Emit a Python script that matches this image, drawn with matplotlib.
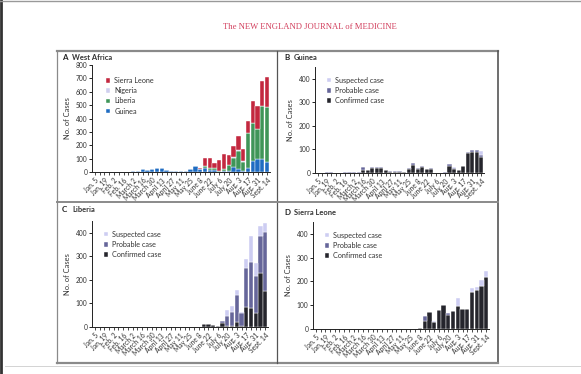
# Ebola weekly cases, West Africa 2014 (NEJM style, 4 panels)
import numpy as np
import matplotlib.pyplot as plt
from matplotlib.lines import Line2D

plt.rcParams['font.family'] = ['Lato', 'DejaVu Sans']

weeks = ["Jan. 5", "", "Jan. 19", "", "Feb. 2", "", "Feb. 16", "", "March 2", "",
         "March 16", "", "March 30", "", "April 13", "", "April 27", "", "May 11", "",
         "May 25", "", "June 8", "", "June 22", "", "July 6", "", "July 20", "",
         "Aug. 3", "", "Aug. 17", "", "Aug. 31", "", "Sept. 14"]

# panel A - west africa (confirmed + probable)
wa_guinea = [0, 0, 3, 2, 3, 2, 2, 3, 4, 4, 25, 16, 26, 27, 27, 14, 8, 7, 8, 6,
             22, 45, 22, 28, 18, 18, 2, 4, 5, 35, 20, 10, 30, 82, 95, 95, 75]
wa_liberia = [0, 0, 0, 0, 0, 0, 0, 0, 0, 0, 0, 0, 0, 0, 0, 0, 0, 0, 0, 0,
              0, 2, 0, 15, 12, 10, 6, 22, 50, 73, 140, 67, 258, 285, 225, 395, 409]
wa_nigeria = [0, 0, 0, 0, 0, 0, 0, 0, 0, 0, 0, 0, 0, 0, 0, 0, 0, 0, 0, 0,
              0, 0, 0, 0, 0, 0, 0, 0, 0, 1, 4, 5, 2, 0, 0, 0, 0]
wa_sleone = [0, 0, 0, 0, 0, 0, 0, 0, 0, 0, 0, 0, 0, 0, 0, 0, 0, 0, 0, 0,
             0, 0, 8, 63, 77, 38, 84, 106, 70, 82, 107, 90, 92, 166, 174, 190, 226]

# panel B - guinea
gn_conf = [0, 0, 1, 1, 1, 0, 1, 1, 2, 2, 14, 12, 20, 22, 22, 11, 6, 5, 4, 4,
           19, 34, 18, 25, 15, 19, 1, 1, 2, 30, 15, 11, 28, 85, 88, 90, 70]
gn_prob = [0, 0, 2, 2, 1, 1, 2, 2, 3, 2, 11, 2, 5, 3, 3, 3, 2, 3, 3, 2,
           3, 8, 4, 3, 3, 3, 0, 1, 1, 8, 7, 2, 3, 3, 8, 8, 8]
gn_susp = [0, 0, 0, 0, 0, 0, 0, 0, 0, 0, 2, 0, 0, 0, 0, 0, 0, 0, 0, 0,
           0, 0, 0, 0, 0, 0, 0, 0, 0, 2, 2, 0, 0, 0, 2, 1, 17]

# panel C - liberia
lb_conf = [0, 0, 0, 0, 0, 0, 0, 0, 0, 0, 0, 0, 0, 0, 0, 0, 0, 0, 0, 0,
           0, 2, 0, 14, 14, 9, 6, 18, 5, 5, 20, 5, 87, 80, 61, 229, 152]
lb_prob = [0, 0, 0, 0, 0, 0, 0, 0, 0, 0, 0, 0, 0, 0, 0, 0, 0, 0, 0, 0,
           0, 0, 0, 0, 0, 0, 0, 7, 42, 57, 116, 53, 165, 194, 157, 159, 253]
lb_susp = [0, 0, 0, 0, 0, 0, 0, 0, 0, 0, 0, 0, 0, 0, 0, 0, 0, 0, 0, 0,
           0, 0, 0, 0, 0, 0, 0, 0, 25, 28, 21, 6, 36, 113, 53, 39, 35]

# panel D - sierra leone
sl_conf = [0, 0, 0, 0, 0, 0, 0, 0, 0, 0, 0, 0, 0, 0, 0, 0, 0, 0, 0, 0,
           0, 0, 3, 34, 73, 31, 79, 100, 60, 77, 97, 84, 85, 156, 164, 181, 217]
sl_prob = [0, 0, 0, 0, 0, 0, 0, 0, 0, 0, 0, 0, 0, 0, 0, 0, 0, 0, 0, 0,
           0, 0, 0, 21, 0, 0, 0, 0, 6, 0, 0, 0, 0, 0, 0, 0, 0]
sl_susp = [0, 0, 0, 0, 0, 0, 0, 0, 0, 0, 0, 0, 0, 0, 0, 0, 0, 0, 0, 0,
           0, 0, 0, 0, 0, 3, 0, 0, 0, 0, 32, 0, 0, 18, 14, 25, 29]

c_conf = "#25252c"
c_prob = "#66669a"
c_susp = "#cdcdf2"
txt = "#333333"

fig = plt.figure(figsize=(5.81, 3.74), dpi=100)
W, H = 581.0, 374.0

def pax(x0, x1, y0, y1):
    # axes from pixel box (y measured from top)
    return fig.add_axes([x0 / W, 1 - y1 / H, (x1 - x0) / W, (y1 - y0) / H])

x = np.arange(len(weeks))

def style(ax, ymax, ticks):
    ax.set_xlim(-0.6, len(weeks) - 0.4)
    ax.set_ylim(0, ymax)
    ax.set_yticks(ticks)
    ax.spines['top'].set_visible(False)
    ax.spines['right'].set_visible(False)
    for s in ['left', 'bottom']:
        ax.spines[s].set_linewidth(0.7)
        ax.spines[s].set_color("#222222")
    ax.set_xticks(x)
    ax.set_xticklabels(weeks, rotation=45, ha='right', rotation_mode='anchor',
                       fontsize=4.9, color=txt)
    ax.tick_params(axis='x', length=2, width=0.5, pad=1.5)
    ax.tick_params(axis='y', length=2.5, width=0.6, labelsize=4.8, labelcolor=txt, pad=1)
    ax.set_ylabel("No. of Cases", fontsize=5.4, color=txt, labelpad=3)
    ax.set_facecolor("white")

# A
ax = pax(92, 270, 65, 172)
b1 = np.array(wa_guinea)
b2 = b1 + np.array(wa_liberia)
b3 = b2 + np.array(wa_nigeria)
ax.bar(x, wa_guinea, 0.9, color="#1f6cc2", edgecolor="white", linewidth=0.3, label="Guinea")
ax.bar(x, wa_liberia, 0.9, bottom=b1, color="#3f9558", edgecolor="white", linewidth=0.3, label="Liberia")
ax.bar(x, wa_nigeria, 0.9, bottom=b2, color="#cfcfee", edgecolor="white", linewidth=0.3, label="Nigeria")
ax.bar(x, wa_sleone, 0.9, bottom=b3, color="#c3283f", edgecolor="white", linewidth=0.3, label="Sierra Leone")
style(ax, 800, range(0, 801, 100))
h, l = ax.get_legend_handles_labels()
ax.legend(h[::-1], l[::-1], loc='upper left', bbox_to_anchor=(0.04, 0.95), frameon=False,
          fontsize=5.2, handlelength=0.6, handleheight=0.6, handletextpad=0.6,
          labelspacing=0.45, labelcolor=txt)

def case_panel(box, conf, prob, susp):
    ax = pax(*box)
    p1 = np.array(conf)
    p2 = p1 + np.array(prob)
    ax.bar(x, conf, 0.9, color=c_conf, edgecolor="white", linewidth=0.3, label="Confirmed case")
    ax.bar(x, prob, 0.9, bottom=p1, color=c_prob, edgecolor="white", linewidth=0.3, label="Probable case")
    ax.bar(x, susp, 0.9, bottom=p2, color=c_susp, edgecolor="white", linewidth=0.3, label="Suspected case")
    style(ax, 450, range(0, 401, 100))
    h, l = ax.get_legend_handles_labels()
    ax.legend(h[::-1], l[::-1], loc='upper left', bbox_to_anchor=(0.03, 0.97), frameon=False,
              fontsize=5.2, handlelength=0.6, handleheight=0.6, handletextpad=0.6,
              labelspacing=0.45, labelcolor=txt)
    return ax

case_panel((315, 484, 67, 173), gn_conf, gn_prob, gn_susp)
case_panel((92, 268, 221, 327), lb_conf, lb_prob, lb_susp)
case_panel((313, 489, 222, 329), sl_conf, sl_prob, sl_susp)

# panel titles
fig.text(62 / W, 1 - 57 / H, "A", fontsize=5.8, weight='bold', color="#222222", va='center')
fig.text(72 / W, 1 - 57 / H, "West Africa", fontsize=5.4, weight='bold', color="#333333", va='center')
fig.text(284 / W, 1 - 57 / H, "B", fontsize=5.8, weight='bold', color="#222222", va='center')
fig.text(294 / W, 1 - 57 / H, "Guinea", fontsize=5.4, weight='bold', color="#333333", va='center')
fig.text(62 / W, 1 - 210 / H, "C", fontsize=5.8, weight='bold', color="#222222", va='center')
fig.text(72 / W, 1 - 210 / H, "Liberia", fontsize=5.4, weight='bold', color="#333333", va='center')
fig.text(284 / W, 1 - 212 / H, "D", fontsize=5.8, weight='bold', color="#222222", va='center')
fig.text(294 / W, 1 - 212 / H, "Sierra Leone", fontsize=5.4, weight='bold', color="#333333", va='center')

# journal header
fig.text(310 / W, 1 - 27 / H, "The NEW ENGLAND JOURNAL of MEDICINE", fontsize=6.2,
         family='Liberation Serif', color="#d2405e", ha='center', va='center')

# frame and dividers
def fline(xs, ys, lw=1.0, c="#8a8a8a"):
    fig.add_artist(Line2D([v / W for v in xs], [1 - v / H for v in ys], lw=lw, color=c))

fline([57, 498], [51, 51], 1.6)
fline([57, 57], [51, 363], 0.9)
fline([498, 498], [51, 363], 1.2, "#555555")
fline([57, 498], [363, 363], 1.6)
fline([277, 277], [51, 363], 0.9, "#555555")
fline([57, 498], [202, 202], 1.4)
# scan edges
fline([1, 1], [0, 374], 2.0, "#333333")
fline([0, 581], [0.5, 0.5], 1.0, "#999999")
fline([5, 581], [366, 366], 0.6, "#cccccc")

fig.savefig("out.png", dpi=100)
